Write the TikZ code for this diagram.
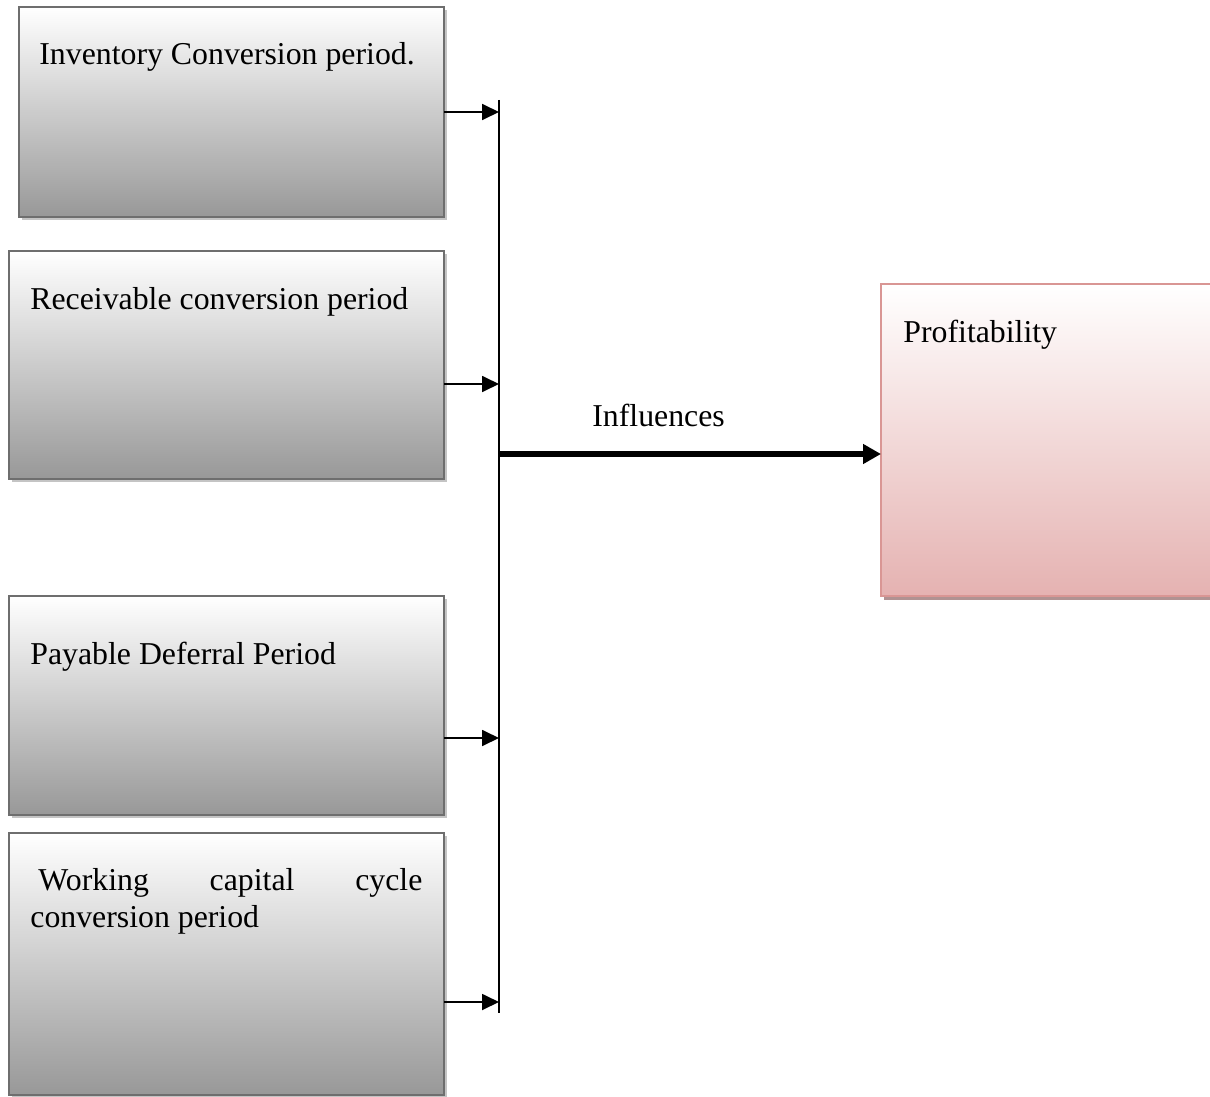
\documentclass[tikz,border=0pt]{standalone}
\usepackage{fontspec}
\setmainfont{Liberation Serif}
\usetikzlibrary{arrows.meta,shadows}
\definecolor{boxline}{RGB}{110,110,110}
\definecolor{boxbot}{RGB}{152,152,152}
\definecolor{boxshadow}{RGB}{196,196,196}
\definecolor{pinkline}{RGB}{217,150,148}
\definecolor{pinkbot}{RGB}{229,178,177}
\definecolor{pinkshadow}{RGB}{176,146,146}
\tikzset{
  graybox/.style={draw=boxline, line width=1pt, top color=white, bottom color=boxbot,
    inner sep=0pt, outer sep=0pt,
    drop shadow={shadow xshift=1.5pt, shadow yshift=-1.5pt, fill=boxshadow, opacity=1}},
  pinkbox/.style={draw=pinkline, line width=1pt, top color=white, bottom color=pinkbot,
    inner sep=0pt, outer sep=0pt,
    drop shadow={shadow xshift=1.5pt, shadow yshift=-2pt, fill=pinkshadow, opacity=1}},
  lbl/.style={anchor=base west, inner sep=0pt, font=\fontsize{15.9}{18.5}\selectfont},
  arr/.style={line width=0.9pt, -{Triangle[length=8.5pt,width=8pt]}},
  bigarr/.style={line width=3pt, -{Triangle[length=9pt,width=9.5pt]}},
  vline/.style={line width=1pt}
}
\begin{document}
\begin{tikzpicture}[x=0.5pt,y=-0.5pt]
\useasboundingbox (0,0) rectangle (1210,1097);
% boxes
\node[graybox, minimum width=212.5pt, minimum height=105pt] (b1) at (231.5,112) {};
\node[graybox, minimum width=217.5pt, minimum height=114pt] (b2) at (226.5,365) {};
\node[graybox, minimum width=217.5pt, minimum height=109.5pt] (b3) at (226.5,705.5) {};
\node[graybox, minimum width=217.5pt, minimum height=131pt] (b4) at (226.5,964) {};
\node[pinkbox, minimum width=168.5pt, minimum height=156pt] (prof) at (1049.5,440) {};
% texts
\node[lbl] (t1) at (39,65) {Inventory Conversion period.};
\node[lbl] (t2) at (30,309) {Receivable conversion period};
\node[lbl] (t3) at (30,664) {Payable Deferral Period};
\node[lbl] (t4a) at (38,890) {\makebox[192pt][s]{Working\hfill capital\hfill cycle}};
\node[lbl] (t4b) at (30,927) {conversion period};
\node[lbl] (tp) at (903,342) {Profitability};
\node[lbl] (tinf) at (592,426) {Influences};
% junction line
\coordinate (vtop) at (499,100);
\coordinate (vbot) at (499,1013);
\coordinate (j1) at (499,112);
\coordinate (j2) at (499,384);
\coordinate (j3) at (499,738);
\coordinate (j4) at (499,1002);
\coordinate (jm) at (499,454);
\draw[vline] (vtop) -- (vbot);
\draw[arr] (b1.east |- j1) -- (j1);
\draw[arr] (b2.east |- j2) -- (j2);
\draw[arr] (b3.east |- j3) -- (j3);
\draw[arr] (b4.east |- j4) -- (j4);
\draw[bigarr] (jm) -- (prof.west |- jm);
\end{tikzpicture}
\end{document}
